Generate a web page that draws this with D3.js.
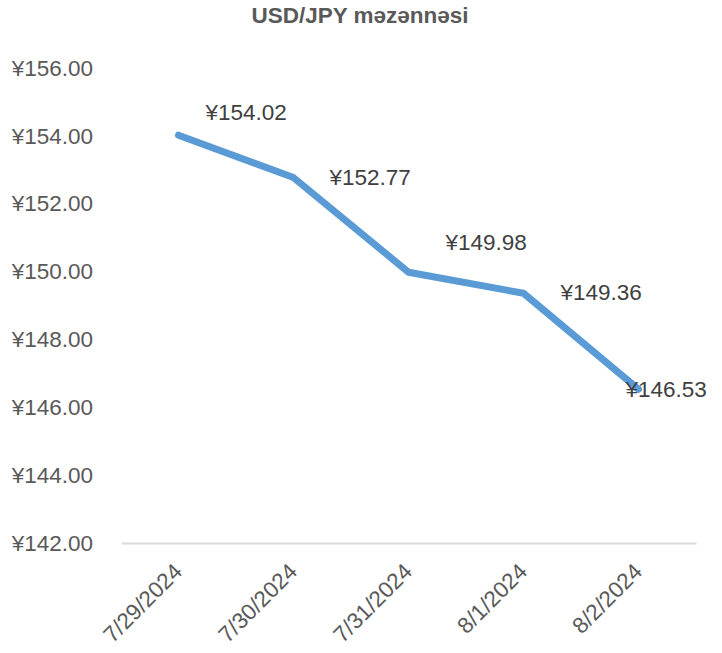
<!DOCTYPE html>
<html><head><meta charset="utf-8">
<script src="https://cdn.jsdelivr.net/npm/d3@7"></script>
<style>body{margin:0;background:#fff;font-family:Arial,"Liberation Sans",sans-serif;}</style>
</head><body><svg id="c" width="722" height="653"></svg>
<script>
const title = "USD/JPY məzənnəsi";
const categories = ["7/29/2024","7/30/2024","7/31/2024","8/1/2024","8/2/2024"];
const values = [154.02, 152.77, 149.98, 149.36, 146.53];
const yTicks = [142,144,146,148,150,152,154,156];

(function(){
const labelOffsets = [[27,-23],[36,-1],[37,-30],[37,-1],[-13,0]];
const FS = 22.5;

const svg = d3.select("#c");
const mLeft = 121, mRight = 696, mTop = 68, mBottom = 543;
const x = d3.scaleBand().domain(categories).range([mLeft, mRight]);
const y = d3.scaleLinear().domain([142,156]).range([mBottom, mTop]);
const fmt = v => "¥" + v.toFixed(2);

svg.append("text").attr("x", 360).attr("y", 23).attr("text-anchor","middle")
  .attr("font-size", 22.5).attr("font-weight","bold").attr("fill","#595959").text(title);

const yAxis = svg.append("g").attr("transform", `translate(${mLeft},0)`)
  .call(d3.axisLeft(y).tickValues(yTicks).tickFormat(fmt).tickSize(0).tickPadding(28));
yAxis.select(".domain").remove();
yAxis.selectAll("text").attr("font-size", FS).attr("fill","#595959").attr("font-family","Arial,'Liberation Sans',sans-serif");

const xAxis = svg.append("g").attr("transform", `translate(0,${mBottom})`)
  .call(d3.axisBottom(x).tickSize(0).tickPadding(0));
xAxis.select(".domain").attr("stroke","#d9d9d9").attr("stroke-width",2);
xAxis.selectAll("text").attr("font-size", FS).attr("fill","#595959")
  .attr("font-family","Arial,'Liberation Sans',sans-serif")
  .attr("text-anchor","end").attr("dy", null)
  .attr("transform","translate(5,30) rotate(-45)");

const line = d3.line().x((d,i)=>x(categories[i]) + x.bandwidth()/2).y(d=>y(d));
svg.append("path").datum(values).attr("d", line).attr("fill","none")
  .attr("stroke","#5B9BD5").attr("stroke-width",7)
  .attr("stroke-linejoin","round").attr("stroke-linecap","round");

svg.append("g").selectAll("text").data(values).join("text")
  .attr("x",(d,i)=>x(categories[i]) + x.bandwidth()/2 + labelOffsets[i][0])
  .attr("y",(d,i)=>y(d) + labelOffsets[i][1] + 8)
  .attr("font-size",FS).attr("fill","#404040").text(fmt);
})();
</script></body></html>
